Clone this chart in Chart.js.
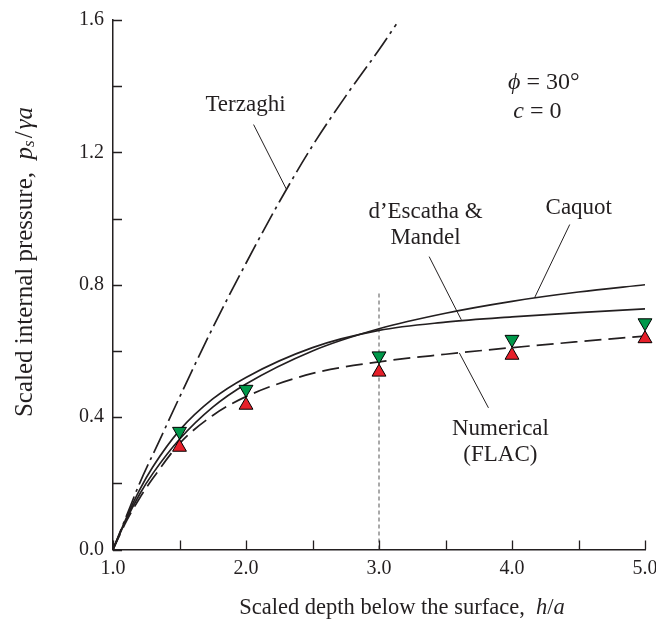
<!DOCTYPE html>
<html>
<head>
<meta charset="utf-8">
<script src="https://cdn.jsdelivr.net/npm/chart.js@4/dist/chart.umd.min.js"></script>
<style>
  body { margin: 0; background: #fff; }
  canvas { display: block; }
</style>
</head>
<body>
<canvas id="chart" width="656" height="631"></canvas>
<script>
// scaled depth h/a
const curveX = [1.0, 1.1, 1.2, 1.3, 1.5, 1.75, 2.0, 2.5, 3.0, 3.5, 4.0, 4.5, 5.0];
const caquotY = [0, 0.09, 0.167, 0.23, 0.333, 0.43, 0.5, 0.6, 0.667, 0.714, 0.75, 0.778, 0.8];
const escathaY = [0, 0.095, 0.18, 0.25, 0.36, 0.455, 0.52, 0.61, 0.662, 0.687, 0.703, 0.716, 0.727];
const flacY = [0, 0.085, 0.155, 0.215, 0.32, 0.405, 0.462, 0.532, 0.567, 0.59, 0.61, 0.628, 0.645];

const terzaghiX = [1.0, 1.1, 1.2, 1.35, 1.5, 1.75, 2.0, 2.25, 2.5, 2.75, 3.0, 3.13];
const terzaghiY = [0, 0.1, 0.2, 0.33, 0.46, 0.67, 0.865, 1.05, 1.22, 1.37, 1.51, 1.587];

// FLAC results (two markers per depth)
const pointX = [1.5, 2.0, 3.0, 4.0, 5.0];
const greenY = [0.357, 0.484, 0.585, 0.635, 0.685];
const redY = [0.309, 0.436, 0.536, 0.587, 0.637];

// vertical reference line at h/a = 3
const refX = [3.0, 3.0];
const refY = [0, 0.776];

const xTicks = [1.0, 2.0, 3.0, 4.0, 5.0];
const yTicks = [0.0, 0.4, 0.8, 1.2, 1.6];

const SERIF = '"Liberation Serif", "DejaVu Serif", serif';
const INK = '#231f20';

const pts = (xs, ys) => xs.map((x, i) => ({ x: x, y: ys[i] }));

// labels and leader lines, in data units
const labels = [
  { lines: ['Terzaghi'], x: 1.996, y: 1.344, lead: [2.057, 1.284, 2.306, 1.087] },
  { lines: ['d\u2019Escatha &', 'Mandel'], x: 3.35, y: 1.021, lead: [3.377, 0.885, 3.619, 0.694] },
  { lines: ['Caquot'], x: 4.502, y: 1.033, lead: [4.434, 0.982, 4.17, 0.761] },
  { lines: ['Numerical', '(FLAC)'], x: 3.913, y: 0.364, lead: [3.604, 0.594, 3.823, 0.428] }
];

function drawRuns(ctx, parts, x, y, size, align) {
  let w = 0;
  parts.forEach(p => {
    ctx.font = (p.italic ? 'italic ' : '') + (p.size || size) + 'px ' + SERIF;
    p.w = ctx.measureText(p.t).width;
    w += p.w;
  });
  let cx = align === 'left' ? x : x - w / 2;
  ctx.textAlign = 'left';
  parts.forEach(p => {
    ctx.font = (p.italic ? 'italic ' : '') + (p.size || size) + 'px ' + SERIF;
    ctx.fillText(p.t, cx, y + (p.dy || 0));
    cx += p.w;
  });
}

const decorations = {
  id: 'decorations',
  afterDraw(chart) {
    const ctx = chart.ctx;
    const xs = chart.scales.x, ys = chart.scales.y;
    const area = chart.chartArea;
    ctx.save();
    ctx.strokeStyle = INK;
    ctx.fillStyle = INK;

    // inward tick marks
    ctx.lineWidth = 1.3;
    ctx.beginPath();
    for (let v = 1.0; v <= 5.0001; v += 0.5) {
      const px = Math.round(xs.getPixelForValue(v)) + 0.5;
      ctx.moveTo(px, area.bottom);
      ctx.lineTo(px, area.bottom - 9);
    }
    for (let v = 0; v <= 1.6001; v += 0.2) {
      const py = Math.round(ys.getPixelForValue(v)) + 0.5;
      ctx.moveTo(area.left, py);
      ctx.lineTo(area.left + 9, py);
    }
    ctx.stroke();

    // leader lines and labels
    ctx.lineWidth = 1;
    ctx.textAlign = 'center';
    ctx.textBaseline = 'middle';
    ctx.font = '23px ' + SERIF;
    labels.forEach(l => {
      ctx.beginPath();
      ctx.moveTo(xs.getPixelForValue(l.lead[0]), ys.getPixelForValue(l.lead[1]));
      ctx.lineTo(xs.getPixelForValue(l.lead[2]), ys.getPixelForValue(l.lead[3]));
      ctx.stroke();
      const cx = xs.getPixelForValue(l.x);
      const cy = ys.getPixelForValue(l.y);
      l.lines.forEach((t, i) => ctx.fillText(t, cx, cy + i * 26));
    });

    // parameters
    drawRuns(ctx, [{ t: '\u03d5', italic: true }, { t: ' = 30\u00b0' }],
      xs.getPixelForValue(3.97), ys.getPixelForValue(1.411), 24, 'left');
    drawRuns(ctx, [{ t: 'c', italic: true }, { t: ' = 0' }],
      xs.getPixelForValue(4.01), ys.getPixelForValue(1.323), 24, 'left');

    // axis titles
    drawRuns(ctx, [
      { t: 'Scaled depth below the surface,  ' },
      { t: 'h', italic: true }, { t: '/' }, { t: 'a', italic: true }
    ], 402, 608, 22.5);

    ctx.translate(25, 262);
    ctx.rotate(-Math.PI / 2);
    drawRuns(ctx, [
      { t: 'Scaled internal pressure,  ' },
      { t: 'p', italic: true },
      { t: 's', italic: true, size: 17, dy: 5 },
      { t: '\u200a/\u200a' },
      { t: '\u03b3a', italic: true }
    ], 0, 0, 25);
    ctx.restore();
  }
};

const lineStyle = {
  borderColor: INK,
  borderWidth: 1.7,
  pointRadius: 0,
  fill: false,
  cubicInterpolationMode: 'monotone'
};

const markerStyle = {
  showLine: false,
  clip: false,
  pointStyle: 'triangle',
  pointRadius: 8,
  pointBorderColor: '#000',
  pointBorderWidth: 1
};

new Chart(document.getElementById('chart'), {
  type: 'line',
  data: {
    datasets: [
      Object.assign({ label: 'FLAC upper', data: pts(pointX, greenY), pointRotation: 180, pointBackgroundColor: '#00984a' }, markerStyle),
      Object.assign({ label: 'FLAC lower', data: pts(pointX, redY), pointBackgroundColor: '#e6202a' }, markerStyle),
      Object.assign({ label: 'Caquot', data: pts(curveX, caquotY) }, lineStyle),
      Object.assign({ label: "d'Escatha & Mandel", data: pts(curveX, escathaY) }, lineStyle),
      Object.assign({ label: 'Numerical (FLAC)', data: pts(curveX, flacY) }, lineStyle, { borderDash: [17, 7] }),
      Object.assign({ label: 'Terzaghi', data: pts(terzaghiX, terzaghiY) }, lineStyle, { borderDash: [22, 5, 3, 5] }),
      {
        label: 'h/a = 3',
        data: pts(refX, refY),
        borderColor: '#555',
        borderWidth: 1,
        borderDash: [4, 3],
        pointRadius: 0
      }
    ]
  },
  options: {
    responsive: false,
    devicePixelRatio: 1,
    animation: false,
    layout: { padding: { top: 20, right: 11, left: 0, bottom: 0 } },
    plugins: { legend: { display: false }, tooltip: { enabled: false } },
    scales: {
      x: {
        type: 'linear',
        min: 1,
        max: 5,
        afterBuildTicks: s => { s.ticks = xTicks.map(v => ({ value: v })); },
        ticks: {
          callback: v => v.toFixed(1),
          font: { family: SERIF, size: 20 },
          color: INK,
          padding: 7,
          maxRotation: 0
        },
        grid: { display: false, drawTicks: false },
        border: { display: true, color: INK, width: 1.5 },
        afterFit: s => { s.height = 81.5; s.paddingLeft = 0; s.paddingRight = 0; }
      },
      y: {
        min: 0,
        max: 1.6,
        afterBuildTicks: s => { s.ticks = yTicks.map(v => ({ value: v })); },
        ticks: {
          callback: v => v.toFixed(1),
          font: { family: SERIF, size: 20 },
          color: INK,
          padding: 9
        },
        grid: { display: false, drawTicks: false },
        border: { display: true, color: INK, width: 1.5 },
        afterFit: s => { s.width = 113; s.paddingTop = 0; s.paddingBottom = 0; }
      }
    }
  },
  plugins: [decorations]
});
</script>
</body>
</html>
